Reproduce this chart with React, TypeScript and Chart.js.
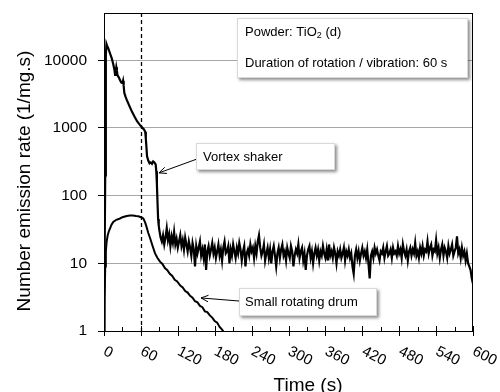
import { useEffect, useRef } from "react";
import { Chart, registerables } from "chart.js";

Chart.register(...registerables);

const FONT = '"Liberation Sans", Arial, Helvetica, sans-serif';

// Vortex shaker, first part: time (s) and number emission rate (1/mg.s)
const vortexTime = [
  0, 2, 3, 4, 5, 7, 10, 12.5, 15, 17, 18, 19, 20, 21, 22, 24, 26, 28, 30, 31, 32, 33, 35, 37, 40,
  43, 46, 50, 54, 58, 62, 65, 67, 68, 69, 70, 72, 74, 76, 78, 80, 82, 84, 85, 86, 87, 88, 89, 90, 92,
];
const vortexRate = [
  1, 200, 12000, 17500, 16500, 15000, 12500, 10800, 8800, 7200, 6100, 6800, 7900, 7000, 6000, 5600,
  5100, 4700, 4600, 5000, 4200, 3300, 2900, 2600, 2250,
  1950, 1700, 1450, 1250, 1120, 1020, 950, 880, 700, 520, 380, 330, 300, 310, 295, 320, 310, 290, 230,
  150, 80, 45, 36, 31, 24,
];
// Vortex shaker, noisy tail sampled every 2 s from 94 s to 600 s
const vortexTailStart = 94;
const vortexTailStep = 2;
const vortexTailRate = [
  21, 26, 19, 24, 33, 22, 27, 18, 25, 20,
  29, 19, 23, 17, 21, 26, 18, 22, 16, 24,
  19, 15, 21, 17, 13, 20, 16, 9, 18, 14,
  17, 21, 13, 16, 12, 19, 8, 15, 18, 13,
  16, 20, 14, 17, 12, 15, 19, 13, 16, 11,
  17, 21, 14, 15, 18, 10, 16, 13, 19, 15,
  12, 17, 14, 20, 16, 11, 15, 18, 9, 14,
  16, 13, 19, 15, 17, 12, 18, 14, 21, 26,
  17, 13, 15, 19, 11, 14, 17, 12, 16, 10,
  15, 18, 13, 9, 14, 17, 12, 16, 19, 13,
  15, 11, 17, 14, 12, 18, 15, 9, 13, 16,
  14, 19, 12, 15, 17, 11, 14, 8, 13, 16,
  18, 12, 15, 10, 14, 17, 13, 16, 11, 15,
  13, 18, 14, 12, 16, 11, 19, 13, 15, 12,
  17, 14, 10, 15, 13, 16, 12, 14, 17, 11,
  15, 13, 16, 12, 14, 9, 7, 13, 16, 12,
  15, 11, 14, 17, 13, 15, 12, 16, 10, 6,
  13, 15, 12, 17, 14, 16, 13, 11, 15, 14,
  17, 12, 15, 18, 13, 14, 16, 12, 17, 14,
  15, 13, 18, 14, 16, 12, 19, 15, 13, 16,
  11, 15, 17, 13, 16, 14, 20, 13, 15, 12,
  17, 14, 18, 13, 16, 15, 21, 14, 17, 19,
  13, 16, 15, 22, 14, 17, 12, 16, 19, 13,
  17, 15, 12, 18, 14, 16, 19, 13, 15, 17,
  25, 14, 16, 12, 17, 13, 15, 11, 14, 10,
  9, 8, 6, 5,
];

// Small rotating drum
const drumTime = [
  0, 1, 2, 3, 4.3, 6, 8, 10, 12, 15, 20, 26, 30, 37, 42, 47, 52, 56, 60, 64, 67, 69, 72, 75, 79,
  83, 87, 91, 95, 99, 103, 107, 111, 115, 119, 124, 128, 132, 136, 140, 144, 148, 152, 156, 160,
  164, 168, 172, 176, 180, 184, 188, 192, 196,
];
const drumRate = [
  1, 3, 9, 15, 21, 26, 30, 33, 37, 41, 44, 46, 48, 50, 51, 51, 50, 49.5, 48, 46, 40, 35, 28, 23.5,
  18, 14, 12, 10.6, 9.8, 8.5, 7.9, 7.0, 6.5, 5.7, 5.4, 4.7, 4.4, 3.9, 3.7, 3.3, 3.1, 2.75, 2.65, 2.35,
  2.25, 1.95, 1.9, 1.7, 1.58, 1.4, 1.33, 1.15, 1.05, 0.92,
];

const yTickValues = [1, 10, 100, 1000, 10000];
const xTickLabels = [0, 60, 120, 180, 240, 300, 360, 420, 480, 540, 600];
const xMinorTicks = [30, 90, 150, 210, 270, 330, 390, 450, 510, 570];
const rotationEnd = 60; // duration of rotation / vibration (s)

function drawArrow(ctx: CanvasRenderingContext2D, x1: number, y1: number, x2: number, y2: number) {
  ctx.save();
  ctx.strokeStyle = "#000";
  ctx.lineWidth = 1;
  ctx.beginPath();
  ctx.moveTo(x1, y1);
  ctx.lineTo(x2, y2);
  const a = Math.atan2(y2 - y1, x2 - x1);
  const L = 8;
  const s = 0.42;
  ctx.moveTo(x2 - L * Math.cos(a - s), y2 - L * Math.sin(a - s));
  ctx.lineTo(x2, y2);
  ctx.lineTo(x2 - L * Math.cos(a + s), y2 - L * Math.sin(a + s));
  ctx.stroke();
  ctx.restore();
}

function drawBox(ctx: CanvasRenderingContext2D, x: number, y: number, w: number, h: number) {
  ctx.save();
  ctx.shadowColor = "rgba(0,0,0,0.45)";
  ctx.shadowBlur = 3;
  ctx.shadowOffsetX = 2;
  ctx.shadowOffsetY = 2;
  ctx.fillStyle = "#fff";
  ctx.fillRect(x, y, w, h);
  ctx.restore();
  ctx.save();
  ctx.strokeStyle = "#d9d9d9";
  ctx.lineWidth = 1;
  ctx.strokeRect(x + 0.5, y + 0.5, w - 1, h - 1);
  ctx.restore();
}

const decor = {
  id: "decor",
  beforeDatasetsDraw(chart: any) {
    const { ctx, chartArea, scales } = chart;
    const px = Math.round(scales.x.getPixelForValue(rotationEnd)) + 0.5;
    ctx.save();
    ctx.strokeStyle = "#000";
    ctx.lineWidth = 1.3;
    ctx.setLineDash([4, 3]);
    ctx.beginPath();
    ctx.moveTo(px, chartArea.top);
    ctx.lineTo(px, chartArea.bottom);
    ctx.stroke();
    ctx.restore();
  },
  afterDatasetsDraw(chart: any) {
    const { ctx, chartArea, scales } = chart;
    const { left, right, top, bottom } = chartArea;
    const xs = scales.x;
    const ys = scales.y;
    ctx.save();
    // plot border
    ctx.strokeStyle = "#000";
    ctx.lineWidth = 1;
    ctx.strokeRect(left + 0.5, top + 0.5, right - left - 1, bottom - top);
    // x ticks
    ctx.beginPath();
    for (const v of xTickLabels) {
      const px = Math.round(xs.getPixelForValue(v)) + 0.5;
      ctx.moveTo(px, bottom - 5);
      ctx.lineTo(px, bottom + 5);
    }
    for (const v of xMinorTicks) {
      const px = Math.round(xs.getPixelForValue(v)) + 0.5;
      ctx.moveTo(px, bottom - 4);
      ctx.lineTo(px, bottom);
    }
    ctx.stroke();
    // rotated x tick labels
    ctx.fillStyle = "#000";
    ctx.font = `15px ${FONT}`;
    ctx.textAlign = "left";
    ctx.textBaseline = "middle";
    for (const v of xTickLabels) {
      const px = xs.getPixelForValue(v);
      ctx.save();
      ctx.translate(px + 0.5, bottom + 19.5);
      ctx.rotate((27 * Math.PI) / 180);
      ctx.fillText(String(v), 0, 0);
      ctx.restore();
    }
    // axis titles
    ctx.font = `19px ${FONT}`;
    ctx.textAlign = "center";
    ctx.textBaseline = "alphabetic";
    ctx.fillText("Time (s)", 308, 391);
    ctx.save();
    ctx.translate(29.5, 181);
    ctx.rotate(-Math.PI / 2);
    ctx.fillText("Number emission rate (1/mg.s)", 0, 0);
    ctx.restore();

    // info box
    drawBox(ctx, 237, 18, 231, 60);
    ctx.fillStyle = "#000";
    ctx.textAlign = "left";
    ctx.textBaseline = "middle";
    ctx.font = `13px ${FONT}`;
    const p1 = "Powder: TiO";
    ctx.fillText(p1, 245, 32);
    const w = ctx.measureText(p1).width;
    ctx.font = `9px ${FONT}`;
    ctx.fillText("2", 245 + w, 35.5);
    const w2 = ctx.measureText("2").width;
    ctx.font = `13px ${FONT}`;
    ctx.fillText(" (d)", 245 + w + w2, 32);
    ctx.fillText("Duration of rotation / vibration: 60 s", 245, 63);

    // vortex label
    const vTipX = xs.getPixelForValue(89.4);
    const vTipY = ys.getPixelForValue(217);
    drawArrow(ctx, 197, 159, vTipX, vTipY);
    drawBox(ctx, 196, 143, 139, 27);
    ctx.fillStyle = "#000";
    ctx.font = `13px ${FONT}`;
    ctx.fillText("Vortex shaker", 203, 157);

    // drum label
    const dTipX = xs.getPixelForValue(157.7);
    const dTipY = ys.getPixelForValue(3.08);
    drawArrow(ctx, 239, 301, dTipX, dTipY);
    drawBox(ctx, 239, 288, 138, 28);
    ctx.fillStyle = "#000";
    ctx.font = `13px ${FONT}`;
    ctx.fillText("Small rotating drum", 245, 302);
    ctx.restore();
  },
};

export default function App() {
  const ref = useRef<HTMLCanvasElement | null>(null);
  useEffect(() => {
    document.body.style.margin = "0";
    const canvas = ref.current;
    if (!canvas) return;
    const vortexData = vortexTime.map((t, i) => ({ x: t, y: vortexRate[i] }));
    vortexTailRate.forEach((v, i) => {
      vortexData.push({ x: vortexTailStart + i * vortexTailStep, y: v });
    });
    const chart = new Chart(canvas, {
      type: "line",
      data: {
        datasets: [
          {
            label: "Vortex shaker",
            data: vortexData,
            borderColor: "#000",
            borderWidth: 2.2,
            pointRadius: 0,
            tension: 0,
            fill: false,
          },
          {
            label: "Small rotating drum",
            data: drumTime.map((t, i) => ({ x: t, y: drumRate[i] })),
            borderColor: "#000",
            borderWidth: 2,
            pointRadius: 0,
            tension: 0,
            fill: false,
          },
        ],
      },
      options: {
        animation: false,
        responsive: false,
        devicePixelRatio: 1,
        layout: { padding: { left: 0, top: 13, right: 27, bottom: 0 } },
        plugins: { legend: { display: false }, tooltip: { enabled: false } },
        scales: {
          x: {
            type: "linear",
            min: 0,
            max: 600,
            ticks: { display: false },
            grid: { display: false },
            border: { display: false },
            afterFit: (s: any) => {
              s.height = 61;
              s.paddingLeft = 0;
              s.paddingRight = 0;
            },
          },
          y: {
            type: "logarithmic",
            min: 1,
            max: 50000,
            afterBuildTicks: (s: any) => {
              s.ticks = yTickValues.map((v) => ({ value: v }));
            },
            ticks: {
              autoSkip: false,
              color: "#000",
              padding: 11,
              font: { family: FONT, size: 15.5 },
              callback: (v: any) => String(v),
            },
            grid: {
              color: (c: any) => (c.tick && c.tick.value === 1 ? "rgba(0,0,0,0)" : "#a6a6a6"),
              tickColor: "#000",
              tickLength: 6,
              lineWidth: 1,
            },
            border: { display: false },
            afterFit: (s: any) => {
              s.width = 104;
              s.paddingTop = 0;
              s.paddingBottom = 0;
            },
          },
        },
      },
      plugins: [decor],
    });
    return () => chart.destroy();
  }, []);
  return <canvas ref={ref} width={500} height={392} style={{ display: "block" }} />;
}
